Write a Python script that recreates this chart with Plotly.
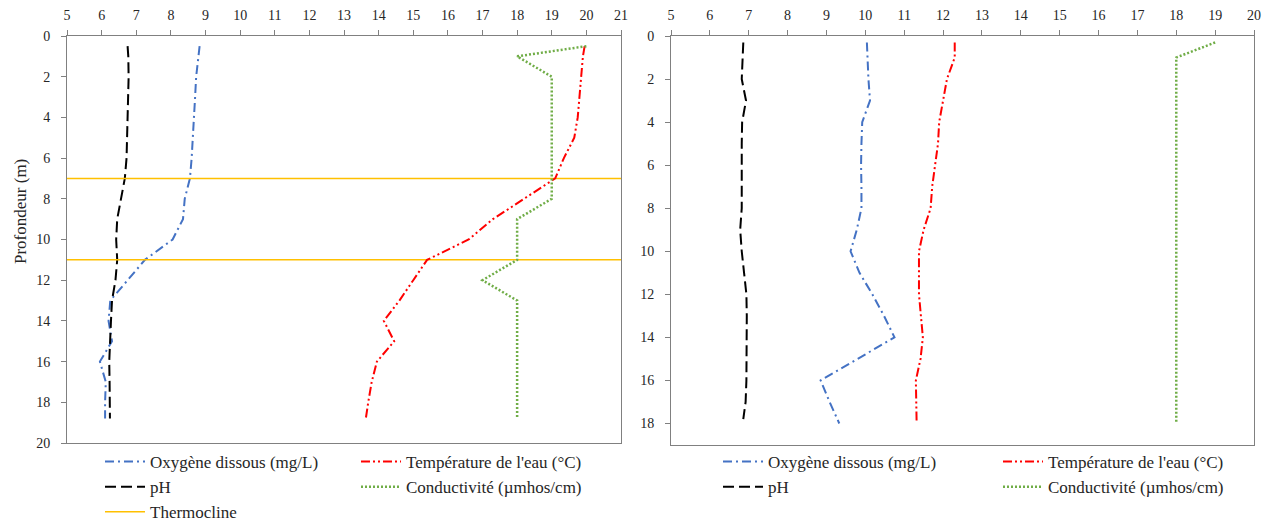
import plotly.graph_objects as go

# ---------------- data: left profile ----------------
depth_L = [0.5, 1, 2, 3, 4, 5, 6, 7, 8, 9, 10, 11, 12, 13, 14, 15, 16, 17, 18, 18.8]
do_L = [8.83, 8.8, 8.73, 8.7, 8.67, 8.64, 8.6, 8.55, 8.4, 8.35, 8.05, 7.25, 6.75, 6.25, 6.2, 6.3, 5.95, 6.12, 6.1, 6.1]
temp_L = [19.95, 19.9, 19.85, 19.8, 19.75, 19.65, 19.35, 19.1, 18.2, 17.3, 16.6, 15.4, 15.0, 14.6, 14.15, 14.45, 13.95, 13.8, 13.7, 13.63]
ph_L = [6.75, 6.77, 6.78, 6.77, 6.75, 6.74, 6.72, 6.67, 6.55, 6.45, 6.42, 6.45, 6.4, 6.3, 6.27, 6.25, 6.22, 6.23, 6.24, 6.24]
cond_L = [20, 18, 19, 19, 19, 19, 19, 19, 19, 18, 18, 18, 17, 18, 18, 18, 18, 18, 18, 18]
thermocline = [7, 11]

# ---------------- data: right profile ----------------
depth_R = [0.3, 1, 2, 3, 4, 5, 6, 7, 8, 9, 10, 11, 12, 13, 14, 15, 16, 17, 18]
do_R = [10.04, 10.05, 10.08, 10.12, 9.92, 9.9, 9.89, 9.9, 9.9, 9.78, 9.62, 9.85, 10.18, 10.48, 10.75, 9.8, 8.85, 9.08, 9.33]
temp_R = [12.3, 12.3, 12.1, 12.0, 11.9, 11.87, 11.8, 11.72, 11.68, 11.5, 11.38, 11.38, 11.38, 11.43, 11.48, 11.42, 11.3, 11.31, 11.32]
depth_R_ph = [0.3, 1, 2, 3, 4, 5, 6, 7, 8, 9, 10, 11, 12, 13, 14, 15, 16, 17, 17.8]
ph_R = [6.86, 6.84, 6.82, 6.93, 6.83, 6.82, 6.82, 6.82, 6.82, 6.78, 6.82, 6.88, 6.94, 6.95, 6.95, 6.95, 6.94, 6.92, 6.86]
cond_R = [19, 18, 18, 18, 18, 18, 18, 18, 18, 18, 18, 18, 18, 18, 18, 18, 18, 18, 18]

xrange_L = [5, 21]
xrange_R = [5, 20]

names = ["Oxygène dissous (mg/L)", "Température de l'eau (°C)", "pH",
         "Conductivité (µmhos/cm)", "Thermocline"]

FONT = "'Liberation Serif', 'Times New Roman', 'DejaVu Serif', serif"
C_DO = "#4472C4"
C_T = "#FF0000"
C_PH = "#000000"
C_C = "#70AD47"
C_TH = "#FFC000"
D_DO = "9px,4px,2px,4px"
D_T = "9px,3px,2px,3px,2px,3px"
D_PH = "11px,5px"
D_C = "2px,2px"

fig = go.Figure()

def add(x, y, name, color, dash, xa, ya, legend, group, width=2):
    fig.add_trace(go.Scatter(x=x, y=y, mode="lines", name=name, xaxis=xa, yaxis=ya,
                             line=dict(color=color, dash=dash, width=width),
                             legend=legend, legendgroup=group + legend,
                             hoverinfo="skip"))

# left
add(do_L, depth_L, names[0], C_DO, D_DO, "x", "y", "legend", "a")
add(ph_L, depth_L, names[2], C_PH, D_PH, "x", "y", "legend", "b")
th_x, th_y = [], []
for d in thermocline:
    th_x += [xrange_L[0], xrange_L[1], None]
    th_y += [d, d, None]
add(th_x, th_y, names[4], C_TH, "solid", "x", "y", "legend", "c", width=1.5)
add(temp_L, depth_L, names[1], C_T, D_T, "x", "y", "legend2", "a")
add(cond_L, depth_L, names[3], C_C, D_C, "x", "y", "legend2", "b", width=2.5)

# right
add(do_R, depth_R, names[0], C_DO, D_DO, "x2", "y2", "legend3", "a")
add(ph_R, depth_R_ph, names[2], C_PH, D_PH, "x2", "y2", "legend3", "b")
add(temp_R, depth_R, names[1], C_T, D_T, "x2", "y2", "legend4", "a")
add(cond_R, depth_R, names[3], C_C, D_C, "x2", "y2", "legend4", "b", width=2.5)

# the page adds an 8px body margin on every side; keep the figure inside the window
OFF = 8
W, H = 1276 - 2 * OFF, 529 - 2 * OFF
ml, mt = 67 - OFF, 36 - OFF
right_end, bottom_end = 1254, 445   # screen coords of plot area edges
mr = W - (right_end - OFF)
mb = H - (bottom_end - OFF)
pw = W - ml - mr
ph = H - mt - mb

def px(xs):
    # screen x -> paper
    return (xs - OFF - ml) / pw

def py(ys):
    # screen y -> paper
    return (H - mb - (ys - OFF)) / ph

axis_common = dict(showline=True, linecolor="#808080", linewidth=1, mirror=True,
                   ticks="outside", ticklen=5, tickcolor="#808080", showgrid=False,
                   zeroline=False, ticklabeloverflow="allow",
                   tickfont=dict(family=FONT, size=14, color="#262626"))

legend_common = dict(font=dict(family=FONT, size=17, color="#262626"), orientation="v",
                     bgcolor="rgba(0,0,0,0)", itemwidth=40, tracegroupgap=0,
                     xanchor="left", yanchor="top", traceorder="grouped")

LEG_TOP = 444  # screen y of legend box top

fig.update_layout(
    width=W, height=H,
    margin=dict(l=ml, r=mr, t=mt, b=mb, autoexpand=False),
    paper_bgcolor="white", plot_bgcolor="white",
    showlegend=True,
    xaxis=dict(domain=[0, px(621)], range=xrange_L, side="top", dtick=1, anchor="y",
               ticklabelstandoff=4, **axis_common),
    yaxis=dict(domain=[py(443), 1], range=[20, 0], dtick=2, anchor="x",
               ticklabelstandoff=8, **axis_common),
    xaxis2=dict(domain=[px(671), 1], range=xrange_R, side="top", dtick=1, anchor="y2",
                ticklabelstandoff=4, **axis_common),
    yaxis2=dict(domain=[0, 1], range=[19, 0], dtick=2, anchor="x2",
                ticklabelstandoff=8, **axis_common),
    legend=dict(x=px(100), y=py(LEG_TOP), **legend_common),
    legend2=dict(x=px(356), y=py(LEG_TOP), **legend_common),
    legend3=dict(x=px(718), y=py(LEG_TOP), **legend_common),
    legend4=dict(x=px(998), y=py(LEG_TOP), **legend_common),
    annotations=[dict(text="Profondeur (m)", textangle=-90, xref="paper", yref="paper",
                      x=px(20), y=py(212), xanchor="center", yanchor="middle",
                      showarrow=False,
                      font=dict(family=FONT, size=17, color="#262626"))],
)

fig.write_html("out.html")
